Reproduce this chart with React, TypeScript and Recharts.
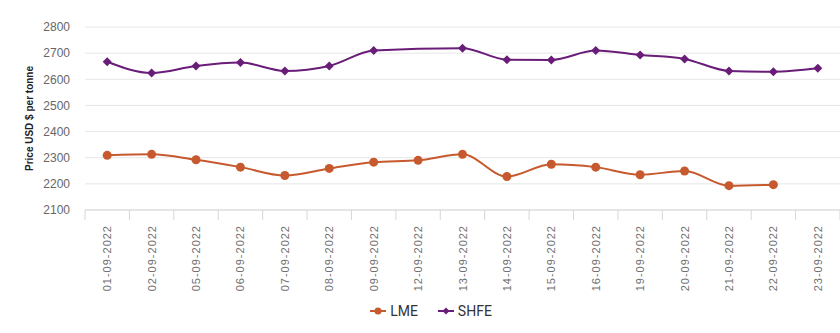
import React from "react"
import {
  LineChart,
  Line,
  XAxis,
  YAxis,
  CartesianGrid,
  Legend,
} from "recharts"

const dates = [
  "01-09-2022", "02-09-2022", "05-09-2022", "06-09-2022", "07-09-2022",
  "08-09-2022", "09-09-2022", "12-09-2022", "13-09-2022", "14-09-2022",
  "15-09-2022", "16-09-2022", "19-09-2022", "20-09-2022", "21-09-2022",
  "22-09-2022", "23-09-2022",
]
const lmeValues = [
  2309, 2313, 2292, 2264, 2232, 2259, 2283, 2290, 2313, 2228,
  2275, 2264, 2235, 2249, 2193, 2197, null,
]
const shfeValues = [
  2667, 2624, 2651, 2664, 2632, 2651, 2710, null, 2719, 2675,
  2674, 2710, 2693, 2678, 2632, 2629, 2642,
]
const yTicks = [2100, 2200, 2300, 2400, 2500, 2600, 2700, 2800]

const LME_COLOR = "#c65a2e"
const SHFE_COLOR = "#6a1d78"
const FONT = "'Liberation Sans', Arial, sans-serif"

const data = dates.map((d, i) => ({ date: d, LME: lmeValues[i], SHFE: shfeValues[i] }))

function CircleDot(props: any) {
  const { cx, cy, value } = props
  if (value == null || cx == null || cy == null) return null
  return <circle cx={cx} cy={cy} r={4.5} fill={LME_COLOR} />
}

function DiamondDot(props: any) {
  const { cx, cy, value } = props
  if (value == null || cx == null || cy == null) return null
  const r = 4.5
  return (
    <polygon
      points={`${cx},${cy - r} ${cx + r},${cy} ${cx},${cy + r} ${cx - r},${cy}`}
      fill={SHFE_COLOR}
    />
  )
}

function DateTick(props: any) {
  const { x, y, payload, index, visibleTicksCount } = props
  const half = payload?.offset || 22.2
  const last = index === (visibleTicksCount ?? dates.length) - 1
  return (
    <g>
      <line x1={x - half} x2={x - half} y1={y - 12} y2={y - 2} stroke="#d6d6d6" />
      {last && <line x1={x + half} x2={x + half} y1={y - 12} y2={y - 2} stroke="#d6d6d6" />}
      <g transform={`translate(${x},${y})`}>
        <text
          transform="rotate(-90)"
          x={-3}
          y={4}
          textAnchor="end"
          fill="#707070"
          fontSize={11}
          letterSpacing={1}
          fontFamily={FONT}
        >
          {payload.value}
        </text>
      </g>
    </g>
  )
}

function YLabel(props: any) {
  const vb = props.viewBox || { x: 0, y: 27, width: 85, height: 183 }
  const cx = vb.x + 33
  const cy = vb.y + vb.height / 2
  return (
    <text
      transform={`translate(${cx},${cy}) rotate(-90)`}
      textAnchor="middle"
      fontSize={10}
      fontWeight="bold"
      fill="#222"
      fontFamily={FONT}
    >
      Price USD $ per tonne
    </text>
  )
}

function LegendBox() {
  const items = [
    { name: "LME", color: LME_COLOR, shape: "circle" },
    { name: "SHFE", color: SHFE_COLOR, shape: "diamond" },
  ]
  return (
    <div style={{ display: "flex", justifyContent: "center", height: 24, alignItems: "center", paddingLeft: 22 }}>
      {items.map((it) => (
        <div key={it.name} style={{ display: "flex", alignItems: "center", margin: "0 10px" }}>
          <svg width={16} height={10}>
            <line x1={0} x2={16} y1={5} y2={5} stroke={it.color} strokeWidth={2} />
            {it.shape === "circle" ? (
              <circle cx={8} cy={5} r={3.5} fill={it.color} />
            ) : (
              <polygon points="8,1.5 11.5,5 8,8.5 4.5,5" fill={it.color} />
            )}
          </svg>
          <span
            style={{
              marginLeft: 4,
              fontSize: 14,
              color: "#333",
              fontFamily: "'Liberation Sans Narrow', 'Roboto', Arial, sans-serif",
            }}
          >
            {it.name}
          </span>
        </div>
      ))}
    </div>
  )
}

export default function App() {
  return (
    <div style={{ position: "absolute", left: 0, top: 0, width: 840, height: 333, background: "#fff" }}>
      <LineChart
        width={840}
        height={333}
        data={data}
        margin={{ top: 27, right: 0, left: 0, bottom: 10 }}
      >
        <CartesianGrid stroke="#e6e6e6" vertical={false} />
        <XAxis
          dataKey="date"
          scale="band"
          interval={0}
          height={89}
          tickSize={10}
          tickMargin={2}
          tickLine={false}
          axisLine={{ stroke: "#d6d6d6" }}
          tick={<DateTick />}
        />
        <YAxis
          width={85}
          domain={[2100, 2800]}
          ticks={yTicks}
          tickSize={0}
          tickMargin={15}
          axisLine={false}
          tickLine={false}
          tick={{ fill: "#666", fontSize: 12, fontFamily: FONT }}
          label={{ content: <YLabel /> }}
        />
        <Legend verticalAlign="bottom" content={<LegendBox />} />
        <Line
          type="monotone"
          dataKey="LME"
          stroke={LME_COLOR}
          strokeWidth={2}
          dot={<CircleDot />}
          activeDot={false}
          connectNulls
          isAnimationActive={false}
        />
        <Line
          type="monotone"
          dataKey="SHFE"
          stroke={SHFE_COLOR}
          strokeWidth={2}
          dot={<DiamondDot />}
          activeDot={false}
          connectNulls
          isAnimationActive={false}
        />
      </LineChart>
    </div>
  )
}
